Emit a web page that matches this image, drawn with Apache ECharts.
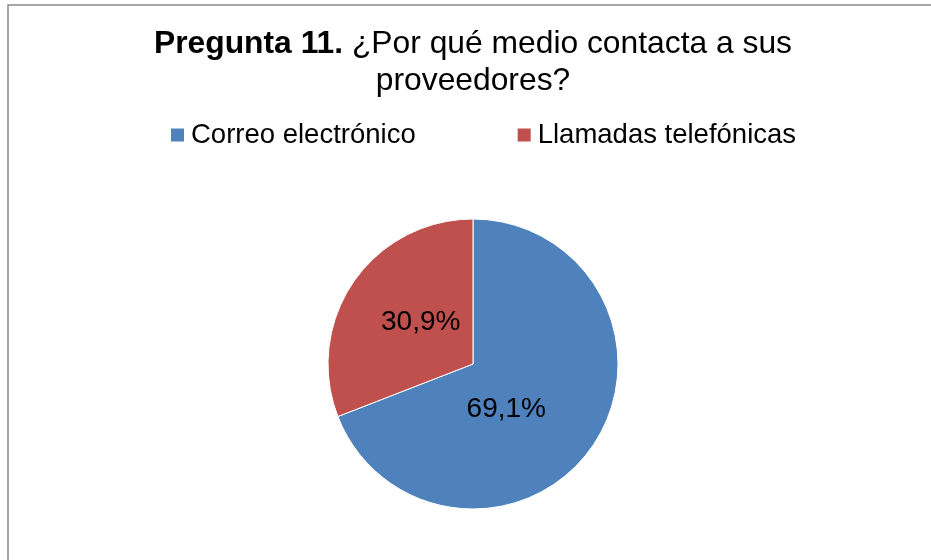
<!DOCTYPE html>
<html>
<head>
<meta charset="utf-8">
<script src="https://cdn.jsdelivr.net/npm/echarts@6/dist/echarts.min.js"></script>
<style>
  html, body { margin: 0; padding: 0; background: #ffffff; }
  #chart { width: 931px; height: 560px; }
</style>
</head>
<body>
<div id="chart"></div>
<script>
const categories = ['Correo electrónico', 'Llamadas telefónicas'];
const values = [69.1, 30.9];
const colors = ['#4F81BD', '#C0504D'];
const labelOffsets = [[-29, 3], [10, 1]];

const FONT = 'Arial, "Liberation Sans", sans-serif';

const chart = echarts.init(document.getElementById('chart'), null, { renderer: 'canvas' });

const option = {
  backgroundColor: '#ffffff',
  animation: false,
  graphic: [{
    type: 'rect',
    shape: { x: 8, y: 5, width: 1000, height: 1000 },
    style: { fill: 'none', stroke: '#8a8a8a', lineWidth: 1.5 },
    silent: true,
    z: 0
  }],
  title: {
    left: 473,
    textAlign: 'center',
    top: 26,
    padding: 0,
    text: '{b|Pregunta 11.} ¿Por qué medio contacta a sus\nproveedores?',
    textStyle: {
      fontFamily: FONT,
      fontSize: 31.8,
      fontWeight: 'normal',
      color: '#000000',
      lineHeight: 37,
      rich: {
        b: { fontFamily: FONT, fontSize: 31.8, fontWeight: 'bold', color: '#000000', lineHeight: 37 }
      }
    }
  },
  legend: {
    left: 169,
    top: 121,
    padding: 0,
    itemWidth: 15,
    itemHeight: 15,
    itemGap: 100,
    icon: 'rect',
    data: categories,
    textStyle: { fontFamily: FONT, fontSize: 27.5, color: '#000000', lineHeight: 28, padding: [0, 0, 0, 1] }
  },
  series: [{
    type: 'pie',
    center: [473, 364],
    radius: 145,
    startAngle: 90,
    clockwise: true,
    avoidLabelOverlap: false,
    itemStyle: { borderColor: '#ffffff', borderWidth: 1 },
    label: {
      show: true,
      position: 'inside',
      fontFamily: FONT,
      fontSize: 28,
      color: '#000000',
      formatter: p => p.value.toFixed(1).replace('.', ',') + '%'
    },
    labelLine: { show: false },
    emphasis: { disabled: true },
    data: categories.map((name, i) => ({
      name: name,
      value: values[i],
      itemStyle: { color: colors[i] },
      label: { offset: labelOffsets[i] }
    }))
  }]
};

chart.setOption(option);
</script>
</body>
</html>
